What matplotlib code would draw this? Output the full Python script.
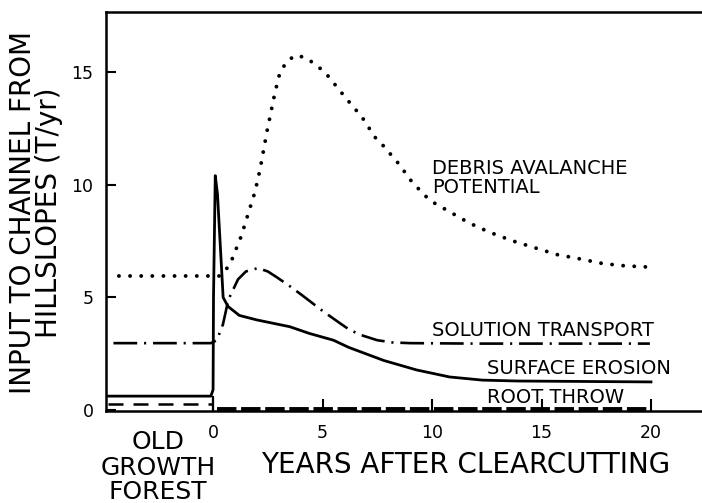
import numpy as np
import matplotlib
matplotlib.use("Agg")
import matplotlib.pyplot as plt

# ==========================================
# Data (years after clearcutting, T/yr)
# ==========================================
debris_x = [-4.3, 0.3, 0.64, 0.87, 1.28, 1.6, 1.92, 2.15, 2.47, 2.83, 3.06, 3.4,
            3.8, 4.3, 5.1, 6.1, 6.8, 7.4, 7.8, 8.5, 9.1, 9.9, 10.8, 11.7, 12.6,
            13.7, 14.7, 15.7, 16.8, 17.8, 18.8, 19.8]
debris_y = [5.95, 5.95, 6.3, 6.7, 7.7, 8.7, 9.7, 10.7, 12.4, 14.1, 15.0, 15.5,
            15.75, 15.6, 15.0, 13.8, 13.0, 12.1, 11.7, 10.9, 10.1, 9.3, 8.8, 8.3,
            7.9, 7.5, 7.2, 6.9, 6.7, 6.5, 6.4, 6.35]

solution_x = [-4.55, -0.1, 0.17, 0.45, 0.7, 1.14, 1.5, 2.05, 2.5, 2.9, 3.5, 4.06,
              5.0, 5.8, 6.25, 6.85, 7.5, 8.2, 9.0, 12.0, 16.0, 19.95]
solution_y = [2.97, 2.97, 3.1, 3.8, 4.9, 5.8, 6.15, 6.3, 6.15, 5.9, 5.5, 5.1,
              4.4, 3.85, 3.55, 3.3, 3.1, 3.0, 2.97, 2.95, 2.95, 2.95]

erosion_x = [-4.9, -0.1, 0.0, 0.02, 0.1, 0.2, 0.46, 0.68, 1.2, 2.0, 3.5, 4.4,
             5.5, 6.2, 7.8, 9.3, 10.8, 12.3, 13.9, 20.0]
erosion_y = [0.62, 0.62, 0.9, 5.0, 10.4, 9.6, 5.0, 4.6, 4.2, 4.0, 3.7, 3.4,
             3.1, 2.78, 2.2, 1.78, 1.47, 1.33, 1.29, 1.25]

root_old_x = [-4.8, -0.05]
root_old_y = [0.27, 0.27]
root_new_x = [0.2, 20.0]
root_new_y = [0.07, 0.07]

clearcut_year = 0
old_growth_erosion = 0.62

x_ticks = [0, 5, 10, 15, 20]
y_ticks = [0, 5, 10, 15]

# ==========================================
# Figure
# ==========================================
fig = plt.figure(figsize=(7.02, 5.03), dpi=100)
ax = fig.add_axes([106 / 702, 1 - 411 / 503, 1 - 106 / 702, (411 - 12) / 503])

ax.plot(debris_x, debris_y, color="black", lw=2.8,
        linestyle=(0, (0.01, 2.85)), dash_capstyle="round")
ax.plot(solution_x, solution_y, color="black", lw=1.9,
        linestyle=(0, (9, 2.6, 0.8, 2.6)))
ax.plot(erosion_x, erosion_y, color="black", lw=2.0, solid_joinstyle="round")
ax.plot(root_old_x, root_old_y, color="black", lw=1.8, linestyle=(0, (6, 4)))
ax.plot(root_new_x, root_new_y, color="black", lw=2.8, linestyle=(0, (5, 1.2)))
ax.vlines(clearcut_year, 0, old_growth_erosion, color="black", lw=1.6)

ax.set_xlim(-4.89, 22.33)
ax.set_ylim(-0.04, 17.66)

ax.spines["right"].set_visible(False)
for s in ["left", "top", "bottom"]:
    ax.spines[s].set_linewidth(1.8)

ax.set_xticks(x_ticks)
ax.set_yticks(y_ticks)
ax.tick_params(axis="x", direction="in", length=9, width=1.5, labelsize=12.5, pad=9)
ax.tick_params(axis="y", direction="in", length=7, width=1.5, labelsize=12.5, pad=9)

lab = dict(fontsize=14, color="black")
ax.text(10.0, 10.3, "DEBRIS AVALANCHE\nPOTENTIAL", va="center", ha="left",
        linespacing=0.95, **lab)
ax.text(10.0, 3.55, "SOLUTION TRANSPORT", va="center", ha="left", **lab)
ax.text(12.5, 1.86, "SURFACE EROSION", va="center", ha="left", **lab)
ax.text(12.5, 0.58, "ROOT THROW", va="center", ha="left", **lab)

fig.text(466 / 702, 1 - 465 / 503, "YEARS AFTER CLEARCUTTING", ha="center",
         va="center", fontsize=20)
for word, yc in [("OLD", 442), ("GROWTH", 468), ("FOREST", 492)]:
    fig.text(158 / 702, 1 - yc / 503, word, ha="center", va="center", fontsize=18)
fig.text(36 / 702, 1 - 213 / 503, "INPUT TO CHANNEL FROM\nHILLSLOPES (T/yr)",
         ha="center", va="center", rotation=90, fontsize=20, linespacing=0.9)

plt.savefig("out.png", dpi=100)
